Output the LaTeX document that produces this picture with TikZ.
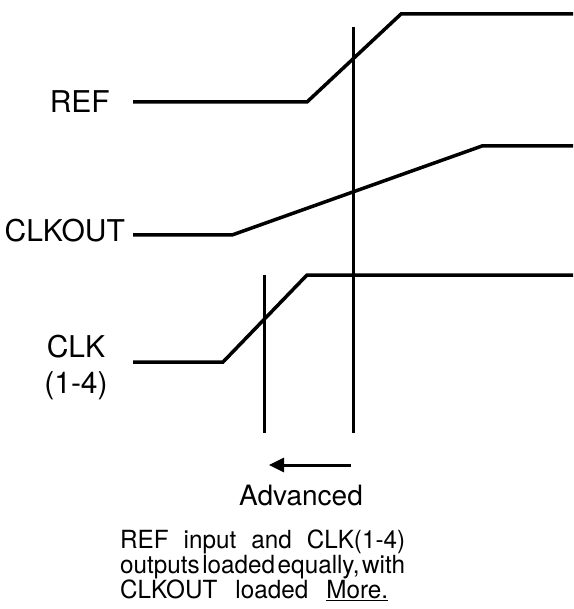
\documentclass[tikz,border=0pt]{standalone}
\usepackage{fontspec}
\setmainfont{TeX Gyre Heros}
\newfontfamily\notefont[FakeStretch=0.97]{TeX Gyre Heros}
\usetikzlibrary{arrows.meta}

\newcommand{\tightsp}{\hspace{2pt plus 2pt minus 2pt}}

\tikzset{
  wave/.style={line width=3.5pt},
  marker/.style={line width=3pt},
  siglabel/.style={font=\fontsize{30}{36}\selectfont, inner sep=0pt},
}

\begin{document}
\begin{tikzpicture}[x=1pt,y=-1pt]
\useasboundingbox (0,0) rectangle (573,609);

% waveforms
\draw[wave] (133,102) -- (307,102) -- (401,14) -- (573,14);
\draw[wave] (133,235) -- (232,235) -- (482,146) -- (573,146);
\draw[wave] (133,362) -- (223,362) -- (307,275) -- (573,275);

% timing markers
\foreach \x/\y in {264/275,353/27}{
	\draw[marker] (\x,\y) -- (\x,433);
	}

% signal names
\node[siglabel,anchor=base east] (ref) at (110,113) {REF};
\node[siglabel,anchor=base east] (clkout) at (125,241) {CLKOUT};
\node[siglabel,align=center,anchor=north] (clk) at (76,335) {CLK\\(1-4)};

% advance arrow
\coordinate (advR) at (351,465);
\coordinate (advL) at (269,465);
\draw[line width=3pt,-{Triangle[length=15pt,width=14pt]}] (advR) -- (advL);
\node[siglabel,font=\fontsize{28}{34}\selectfont,anchor=base] (adv) at (301,505) {Advanced};

% note
\node[anchor=north west,inner sep=0pt,align=left,
      font=\notefont\fontsize{25}{20.5}\selectfont] (note) at (120,530) {%
	\makebox[285pt][s]{REF input and CLK(1-4)}\\
	\makebox[285pt][s]{outputs\tightsp loaded\tightsp equally,\tightsp with}\\
	\makebox[268pt][s]{CLKOUT loaded \underline{More.}}};
\end{tikzpicture}
\end{document}
